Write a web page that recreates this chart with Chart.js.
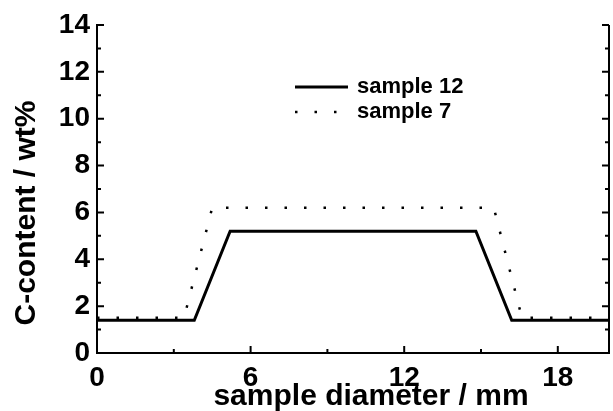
<!DOCTYPE html>
<html>
<head>
<meta charset="utf-8">
<script src="https://cdn.jsdelivr.net/npm/chart.js@4/dist/chart.umd.min.js"></script>
<style>
html, body { margin: 0; padding: 0; background: #fff; }
canvas { display: block; }
</style>
</head>
<body>
<canvas id="chart" width="613" height="411"></canvas>
<script>
// values
const X_TICKS = [0, 6, 12, 18];
const Y_TICKS = [0, 2, 4, 6, 8, 10, 12, 14];
const SAMPLE_12_X = [0, 3.8, 5.2, 14.8, 16.2, 20];
const SAMPLE_12_Y = [1.4, 1.4, 5.2, 5.2, 1.4, 1.4];
const SAMPLE_7_X = [0, 3.4, 4.5, 15.5, 16.6, 20];
const SAMPLE_7_Y = [1.5, 1.5, 6.2, 6.2, 1.5, 1.5];
const SERIES_NAMES = ['sample 12', 'sample 7'];
const X_TITLE = 'sample diameter / mm';
const Y_TITLE = 'C-content / wt%';

const FONT = '"Liberation Sans", Arial, sans-serif';

let toPoints = (xs, ys) => xs.map((x, i) => ({x: x, y: ys[i]}));

// inward ticks, right axis, legend and axis titles
let framePlugin = {
  id: 'frame',
  afterDraw: (chart) => {
    let ctx = chart.ctx;
    let area = chart.chartArea;
    let xs = chart.scales.x;
    let ys = chart.scales.y;

    ctx.save();
    ctx.strokeStyle = '#000';
    ctx.fillStyle = '#000';
    ctx.lineWidth = 2;
    ctx.lineCap = 'butt';

    // right axis
    ctx.beginPath();
    ctx.moveTo(area.right, area.top);
    ctx.lineTo(area.right, area.bottom + 1);
    ctx.stroke();

    // x ticks (major + minor halfway)
    let xTickLine = (v, len) => {
      let px = xs.getPixelForValue(v);
      ctx.beginPath();
      ctx.moveTo(px, area.bottom);
      ctx.lineTo(px, area.bottom - len);
      ctx.stroke();
    };
    for (let i = 0; i < X_TICKS.length; i ++) {
      xTickLine(X_TICKS[i], 7);
      let mid = X_TICKS[i] + (X_TICKS[1] - X_TICKS[0]) / 2;
      if (mid < xs.max) xTickLine(mid, 4);
    }

    // y ticks on both sides
    let yTickLine = (v, len) => {
      let py = ys.getPixelForValue(v);
      ctx.beginPath();
      ctx.moveTo(area.left, py);
      ctx.lineTo(area.left + len, py);
      ctx.moveTo(area.right, py);
      ctx.lineTo(area.right - len, py);
      ctx.stroke();
    };
    for (let i = 0; i < Y_TICKS.length; i ++) {
      yTickLine(Y_TICKS[i], 7);
      let mid = Y_TICKS[i] + (Y_TICKS[1] - Y_TICKS[0]) / 2;
      if (mid < ys.max) yTickLine(mid, 4);
    }

    // legend
    ctx.font = 'bold 22px ' + FONT;
    ctx.textBaseline = 'middle';
    ctx.textAlign = 'left';
    let lx = area.left + 198;
    let ly = area.top + 62;
    chart.data.datasets.forEach((ds, i) => {
      let y = ly + i * 25;
      ctx.save();
      ctx.lineWidth = ds.borderWidth;
      ctx.setLineDash(ds.borderDash || []);
      ctx.beginPath();
      ctx.moveTo(lx, y);
      ctx.lineTo(lx + 53, y);
      ctx.stroke();
      ctx.restore();
      ctx.fillText(ds.label, lx + 62, y);
    });

    // axis titles
    ctx.font = 'bold 30px ' + FONT;
    ctx.textAlign = 'center';
    ctx.fillText(X_TITLE, 371, 397);
    ctx.translate(27, 213);
    ctx.rotate(-Math.PI / 2);
    ctx.fillText(Y_TITLE, 0, 0);
    ctx.restore();
  }
};

new Chart(document.getElementById('chart'), {
  type: 'line',
  data: {
    datasets: [
      {
        label: SERIES_NAMES[0],
        data: toPoints(SAMPLE_12_X, SAMPLE_12_Y),
        borderColor: '#000',
        borderWidth: 3,
        borderJoinStyle: 'miter',
        pointRadius: 0,
        fill: false,
        tension: 0
      },
      {
        label: SERIES_NAMES[1],
        data: toPoints(SAMPLE_7_X, SAMPLE_7_Y),
        borderColor: '#000',
        borderWidth: 2.5,
        borderDash: [2.5, 17],
        borderCapStyle: 'butt',
        pointRadius: 0,
        fill: false,
        tension: 0
      }
    ]
  },
  options: {
    responsive: false,
    animation: false,
    layout: {padding: {left: 0, right: 4, top: 25, bottom: 0}},
    plugins: {
      legend: {display: false},
      tooltip: {enabled: false}
    },
    scales: {
      x: {
        type: 'linear',
        min: 0,
        max: 20,
        afterFit: (scale) => { scale.height = 58; },
        afterBuildTicks: (scale) => {
          scale.ticks = X_TICKS.map((v) => ({value: v}));
        },
        grid: {display: false, drawTicks: false},
        border: {display: true, color: '#000', width: 2},
        ticks: {
          color: '#000',
          padding: 8,
          maxRotation: 0,
          font: {family: FONT, size: 28, weight: 'bold'}
        }
      },
      y: {
        type: 'linear',
        min: 0,
        max: 14,
        afterFit: (scale) => { scale.width = 97; },
        afterBuildTicks: (scale) => {
          scale.ticks = Y_TICKS.map((v) => ({value: v}));
        },
        grid: {display: false, drawTicks: false},
        border: {display: true, color: '#000', width: 2},
        ticks: {
          color: '#000',
          padding: 7,
          font: {family: FONT, size: 28, weight: 'bold'}
        }
      }
    }
  },
  plugins: [framePlugin]
});
</script>
</body>
</html>
